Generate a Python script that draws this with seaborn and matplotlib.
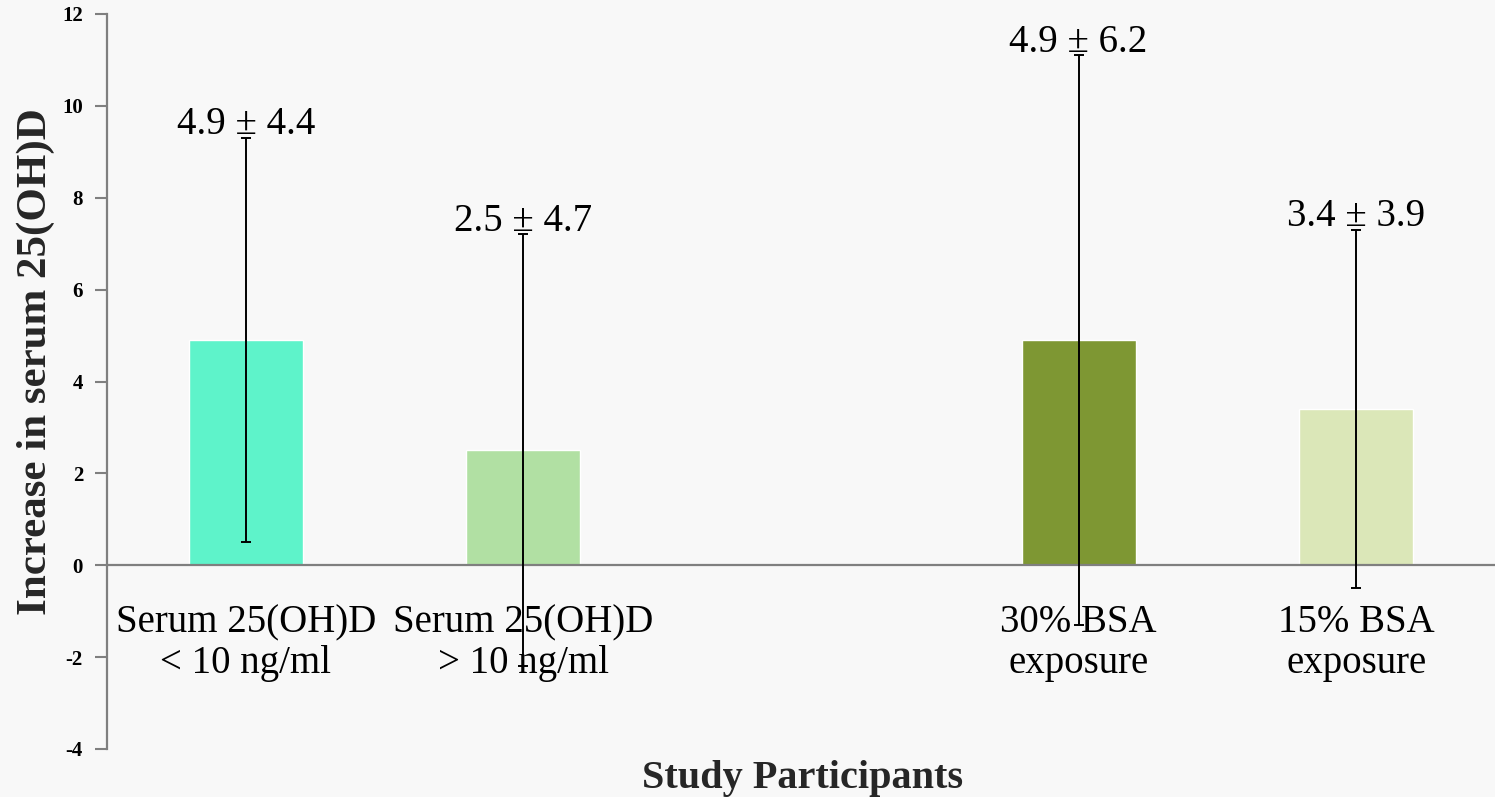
import matplotlib
matplotlib.use("Agg")
import matplotlib.pyplot as plt
import matplotlib.transforms as mtransforms
import seaborn as sns
import pandas as pd

# ---- data ----
categories = ["Serum 25(OH)D\n< 10 ng/ml", "Serum 25(OH)D\n> 10 ng/ml", " ",
              "30% BSA\nexposure", "15% BSA\nexposure"]
bar_categories = ["Serum 25(OH)D\n< 10 ng/ml", "Serum 25(OH)D\n> 10 ng/ml",
                  "30% BSA\nexposure", "15% BSA\nexposure"]
means = [4.9, 2.5, 4.9, 3.4]
sds = [4.4, 4.7, 6.2, 3.9]
value_labels = ["4.9 ± 4.4", "2.5 ± 4.7", "4.9 ± 6.2", "3.4 ± 3.9"]
bar_colors = ["#5ef3ca", "#b1e0a3", "#7e9733", "#dbe7b8"]
y_ticks = [-4, -2, 0, 2, 4, 6, 8, 10, 12]
x_label = "Study Participants"
y_label = "Increase in serum 25(OH)D"

sns.set_style("white")
plt.rcParams["font.family"] = ["Liberation Serif", "DejaVu Serif"]

bg = "#f8f8f8"
W, H = 1495, 797
fig = plt.figure(figsize=(W / 100, H / 100), dpi=100, facecolor=bg)
ax = fig.add_axes([107 / W, 48 / H, 1 - 107 / W, (749 - 14) / H])
ax.set_facecolor(bg)

df = pd.DataFrame({"group": bar_categories, "value": means})
sns.barplot(data=df, x="group", y="value", hue="group", order=categories,
            hue_order=bar_categories, palette=dict(zip(bar_categories, bar_colors)),
            width=0.41, legend=False, errorbar=None, ax=ax, saturation=1)

xpos = [categories.index(c) for c in bar_categories]
ax.errorbar(xpos, means, yerr=sds, fmt="none", ecolor="black", elinewidth=1.4,
            capsize=3.5, capthick=1.4, zorder=5)
for x, m, s, lab in zip(xpos, means, sds, value_labels):
    ax.text(x, m + s + 0.08, lab, ha="center", va="baseline", fontsize=28,
            color="black", zorder=6)

ax.set_xlim(-0.5, len(categories) - 0.5)
ax.set_ylim(-4, 12)

for s in ["top", "right"]:
    ax.spines[s].set_visible(False)
ax.spines["bottom"].set_position(("data", 0))
for s in ["left", "bottom"]:
    ax.spines[s].set_color("#7f7f7f")
    ax.spines[s].set_linewidth(1.6)

ax.tick_params(axis="x", which="major", direction="out", length=8, width=1.5,
               color="#7f7f7f")
ax.tick_params(axis="x", which="minor", length=0, pad=28, labelsize=28,
               labelcolor="black")
ax.tick_params(axis="y", direction="out", length=9, width=1.5, color="#7f7f7f",
               left=True, labelleft=False)

ax.set_yticks(y_ticks)
ax.set_xticks([i + 0.5 for i in range(len(categories) - 1)])
ax.set_xticklabels([])
ax.set_xticks(range(len(categories)), minor=True)
ax.set_xticklabels(categories, minor=True)

# y tick labels as text anchored to the data y positions
ytrans = mtransforms.blended_transform_factory(ax.transAxes, ax.transData)
for t in y_ticks:
    ax.text(-24 / 1388, t, str(t), transform=ytrans, ha="right",
            va="center_baseline", fontsize=15, fontweight="bold", color="black",
            clip_on=False)

ax.set_xlabel("")
ax.set_ylabel("")
fig.text(803 / W, 1 - 788 / H, x_label, ha="center", va="baseline", fontsize=29,
         fontweight="bold")
fig.text(36 / W, 1 - 362 / H, y_label, ha="center", va="center", rotation=90,
         fontsize=31, fontweight="bold")

fig.canvas.draw()
for lbl in ax.get_xticklabels(minor=True):
    lbl.set_linespacing(1.15)
    lbl.set_fontsize(28)

fig.savefig("out.png", dpi=100, facecolor=bg)
